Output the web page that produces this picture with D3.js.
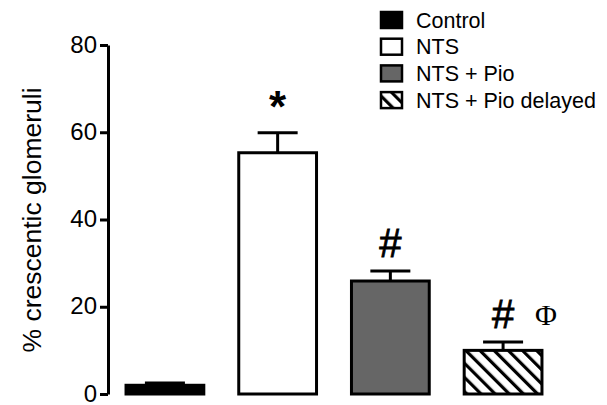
<!DOCTYPE html>
<html lang="en">
<head>
<meta charset="UTF-8">
<title>Crescentic glomeruli</title>
<style>
  body { margin: 0; background: #fff; }
  text { font-family: "Liberation Sans", Arial, sans-serif; }
</style>
</head>
<body>
<script src="https://d3js.org/d3.v7.min.js"></script>
<script>
    // data
    let groups = ["Control", "NTS", "NTS + Pio", "NTS + Pio delayed"];
    let means = [2.0, 55.3, 25.9, 10.0];
    let sems = [0.5, 4.6, 2.3, 1.9];
    let marks = ["", "*", "#", "#"];
    let yTicks = [0, 20, 40, 60, 80];

    let w = 607, h = 405;
    let svg = d3.select("body").append("svg")
        .attr("width", w)
        .attr("height", h);

    // hatch pattern for the delayed group
    let defs = svg.append("defs");
    defs.append("pattern")
        .attr("id", "hatch")
        .attr("patternUnits", "userSpaceOnUse")
        .attr("width", 10)
        .attr("height", 10)
        .attr("patternTransform", "rotate(-45)")
        .append("rect")
        .attr("x", 0).attr("y", 0)
        .attr("width", 3.2).attr("height", 10)
        .attr("fill", "#000");

    let fills = ["#000", "#fff", "#666", "url(#hatch)"];

    let xScale = d3.scaleBand()
        .domain(groups)
        .range([108, 560])
        .paddingInner(0.31)
        .paddingOuter(0.16);

    let yScale = d3.scaleLinear()
        .domain([0, 80])
        .range([394, 45]);

    // y axis
    let yAxis = d3.axisLeft(yScale)
        .tickValues(yTicks)
        .tickSize(8)
        .tickPadding(3)
        .tickSizeOuter(0);

    let ga = svg.append("g")
        .attr("transform", "translate(108,0)")
        .call(yAxis);
    ga.select(".domain").attr("stroke-width", 3).attr("stroke", "#000");
    ga.selectAll(".tick line").attr("stroke-width", 3).attr("stroke", "#000");
    ga.selectAll(".tick text")
        .style("font-family", "'Liberation Sans', Arial, sans-serif")
        .style("font-size", "24px")
        .attr("dy", "0.3em")
        .attr("fill", "#000");

    svg.append("text")
        .attr("transform", "translate(41,220) rotate(-90)")
        .attr("text-anchor", "middle")
        .style("font-size", "26.5px")
        .text("% crescentic glomeruli");

    // error bars (drawn first so the bar covers the lower half)
    let eb = svg.append("g");
    groups.forEach(function (g, i) {
        let cx = xScale(g) + xScale.bandwidth() / 2;
        eb.append("line")
            .attr("x1", cx).attr("x2", cx)
            .attr("y1", yScale(means[i]))
            .attr("y2", yScale(means[i] + sems[i]))
            .attr("stroke", "#000").attr("stroke-width", 3);
        eb.append("line")
            .attr("x1", cx - 20).attr("x2", cx + 20)
            .attr("y1", yScale(means[i] + sems[i]))
            .attr("y2", yScale(means[i] + sems[i]))
            .attr("stroke", "#000").attr("stroke-width", 3);
    });

    // bars
    svg.append("g")
        .selectAll("rect")
        .data(groups)
        .enter()
        .append("rect")
        .attr("x", function (d) { return xScale(d); })
        .attr("y", function (d, i) { return yScale(means[i]); })
        .attr("width", xScale.bandwidth())
        .attr("height", function (d, i) { return yScale(0) - yScale(means[i]); })
        .attr("fill", function (d, i) { return fills[i]; })
        .attr("stroke", "#000")
        .attr("stroke-width", 3);

    // significance marks
    groups.forEach(function (g, i) {
        if (!marks[i]) return;
        let cx = xScale(g) + xScale.bandwidth() / 2;
        let top = yScale(means[i] + sems[i]);
        if (marks[i] === "*") {
            svg.append("text")
                .attr("x", cx).attr("y", top - 11)
                .attr("text-anchor", "middle")
                .style("font-size", "44px")
                .style("font-weight", "bold")
                .text("*");
        } else {
            svg.append("text")
                .attr("x", cx).attr("y", top - 14)
                .attr("text-anchor", "middle")
                .style("font-size", "40px")
                .attr("stroke", "#000")
                .attr("stroke-width", 0.8)
                .text("#");
        }
    });
    // phi next to the delayed group
    svg.append("text")
        .attr("x", xScale(groups[3]) + xScale.bandwidth() / 2 + 43)
        .attr("y", yScale(means[3] + sems[3]) - 17)
        .attr("text-anchor", "middle")
        .style("font-family", "'Liberation Serif', 'Times New Roman', serif")
        .style("font-size", "30px")
        .text("\u03A6");

    // legend
    let lg = svg.append("g");
    groups.forEach(function (g, i) {
        let y = 20 + i * 26.7;
        lg.append("rect")
            .attr("x", 381).attr("y", y - 8)
            .attr("width", 21).attr("height", 16)
            .attr("fill", fills[i])
            .attr("stroke", "#000")
            .attr("stroke-width", 2.5);
        lg.append("text")
            .attr("x", 416).attr("y", y + 7.5)
            .style("font-size", "21.5px")
            .text(g);
    });
</script>
</body>
</html>
